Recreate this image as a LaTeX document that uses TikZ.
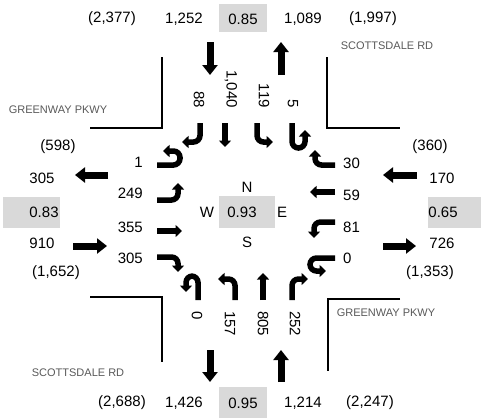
\documentclass[tikz,border=0pt]{standalone}
\usepackage{fontspec}
\setmainfont{Liberation Sans}
\usetikzlibrary{arrows.meta}
\definecolor{boxgray}{HTML}{D9D9D9}
\definecolor{roadgray}{HTML}{595959}

\begin{document}
\begin{tikzpicture}[
  x=1pt, y=-1pt,
  vol/.style={font=\fontsize{15}{17}\selectfont, inner sep=0pt},
  road/.style={font=\fontsize{11}{13}\selectfont, text=roadgray, inner sep=0pt},
  lbl/.style={vol, rotate=-90},
  curb/.style={line width=1.2pt},
  flow/.style={line width=7pt, -{Triangle[length=10pt, width=15pt]}},
  lane/.style={line width=5.5pt, -{Triangle[length=6.5pt, width=12pt]}, rounded corners=6.5pt},
]
  \useasboundingbox (0,0) rectangle (481,418);

  % v/c boxes
  \fill[boxgray] (219,4)   rectangle (267,32);
  \fill[boxgray] (219,387) rectangle (267,418);
  \fill[boxgray] (3,197)   rectangle (60,228);
  \fill[boxgray] (428,197) rectangle (481,228);
  \fill[boxgray] (219,196) rectangle (275,228);

  % north leg
  \node[vol] (nPk)  at (112,19) {(2,377)};
  \node[vol] (nIn)  at (184,19) {1,252};
  \node[vol] (nVc)  at (243,19) {0.85};
  \node[vol] (nOut) at (303,19) {1,089};
  \node[vol] (nPo)  at (373,19) {(1,997)};
  \draw[flow] (210,42) -- (210,75);
  \draw[flow] (281,75) -- (281,42);

  % south leg
  \node[vol] (sPk)  at (122,403) {(2,688)};
  \node[vol] (sOut) at (184,403) {1,426};
  \node[vol] (sVc)  at (243,403) {0.95};
  \node[vol] (sIn)  at (303,403) {1,214};
  \node[vol] (sPo)  at (370,403) {(2,247)};
  \draw[flow] (210,350) -- (210,382);
  \draw[flow] (281,382) -- (281,350);

  % west leg
  \node[vol] (wPo)  at (58,147)  {(598)};
  \node[vol] (wOut) at (42,178)  {305};
  \node[vol] (wVc)  at (44,212)  {0.83};
  \node[vol] (wIn)  at (42,243)  {910};
  \node[vol] (wPk)  at (56,273)  {(1,652)};
  \draw[flow] (108,175) -- (75,175);
  \draw[flow] (73,246) -- (107,246);

  % east leg
  \node[vol] (ePo)  at (430,147) {(360)};
  \node[vol] (eIn)  at (442,178) {170};
  \node[vol] (eVc)  at (443,212) {0.65};
  \node[vol] (eOut) at (442,243) {726};
  \node[vol] (ePk)  at (430,273) {(1,353)};
  \draw[flow] (417,175) -- (383,175);
  \draw[flow] (383,246) -- (416,246);

  % intersection
  \node[vol] (vcI) at (242,212) {0.93};
  \node[vol] (dirN) at (247,187) {N};
  \node[vol] (dirW) at (207,212) {W};
  \node[vol] (dirE) at (282,212) {E};
  \node[vol] (dirS) at (247,242) {S};

  % curbs
  \draw[curb] (90,128) -- (162,128) -- (162,57);
  \draw[curb] (327,57) -- (327,128) -- (400,128);
  \draw[curb] (90,297) -- (162,297) -- (162,362);
  \draw[curb] (400,299) -- (328,299) -- (328,371);

  \node[road] (rdNE) at (387,46)  {SCOTTSDALE RD};
  \node[road] (rdNW) at (58,110)  {GREENWAY PKWY};
  \node[road] (rdSE) at (386,313) {GREENWAY PKWY};
  \node[road] (rdSW) at (78,373)  {SCOTTSDALE RD};

  % southbound lanes
  \node[lbl, anchor=east] (sbR) at (199,108) {88};
  \node[lbl, anchor=east] (sbT) at (231,108) {1,040};
  \node[lbl, anchor=east] (sbL) at (264,108) {119};
  \node[lbl, anchor=east] (sbU) at (293,108) {5};
  \draw[lane] (200,123) -- (200,142) -- (182,142);
  \draw[lane] (225,123) -- (225,147);
  \draw[lane] (257,123) -- (257,142) -- (273,142);
  \draw[lane] (292,123) -- (292,148) -- (305,148) -- (305,130);

  % eastbound lanes
  \node[vol, anchor=east] (ebU) at (143,162) {1};
  \node[vol, anchor=east] (ebL) at (143,193) {249};
  \node[vol, anchor=east] (ebT) at (143,227) {355};
  \node[vol, anchor=east] (ebR) at (143,258) {305};
  \draw[lane] (157,165) -- (180,165) -- (180,151) -- (163,151);
  \draw[lane] (157,200) -- (178,200) -- (178,183);
  \draw[lane] (157,231) -- (182,231);
  \draw[lane] (157,257) -- (178,257) -- (178,272);

  % westbound lanes
  \node[vol, anchor=west] (wbR) at (343,163) {30};
  \node[vol, anchor=west] (wbT) at (343,195) {59};
  \node[vol, anchor=west] (wbL) at (343,227) {81};
  \node[vol, anchor=west] (wbU) at (343,258) {0};
  \draw[lane] (335,165) -- (315,165) -- (315,150);
  \draw[lane] (335,192) -- (310,192);
  \draw[lane] (335,222) -- (314,222) -- (314,238);
  \draw[lane] (335,258) -- (310,258) -- (310,271) -- (326,271);

  % northbound lanes
  \node[lbl, anchor=west] (nbU) at (197,311) {0};
  \node[lbl, anchor=west] (nbL) at (230,311) {157};
  \node[lbl, anchor=west] (nbT) at (263,311) {805};
  \node[lbl, anchor=west] (nbR) at (295,311) {252};
  \draw[lane] (198,300) -- (198,276) -- (186,276) -- (186,292);
  \draw[lane] (235,300) -- (235,279) -- (218,279);
  \draw[lane] (263,300) -- (263,273);
  \draw[lane] (292,300) -- (292,279) -- (308,279);
\end{tikzpicture}
\end{document}
